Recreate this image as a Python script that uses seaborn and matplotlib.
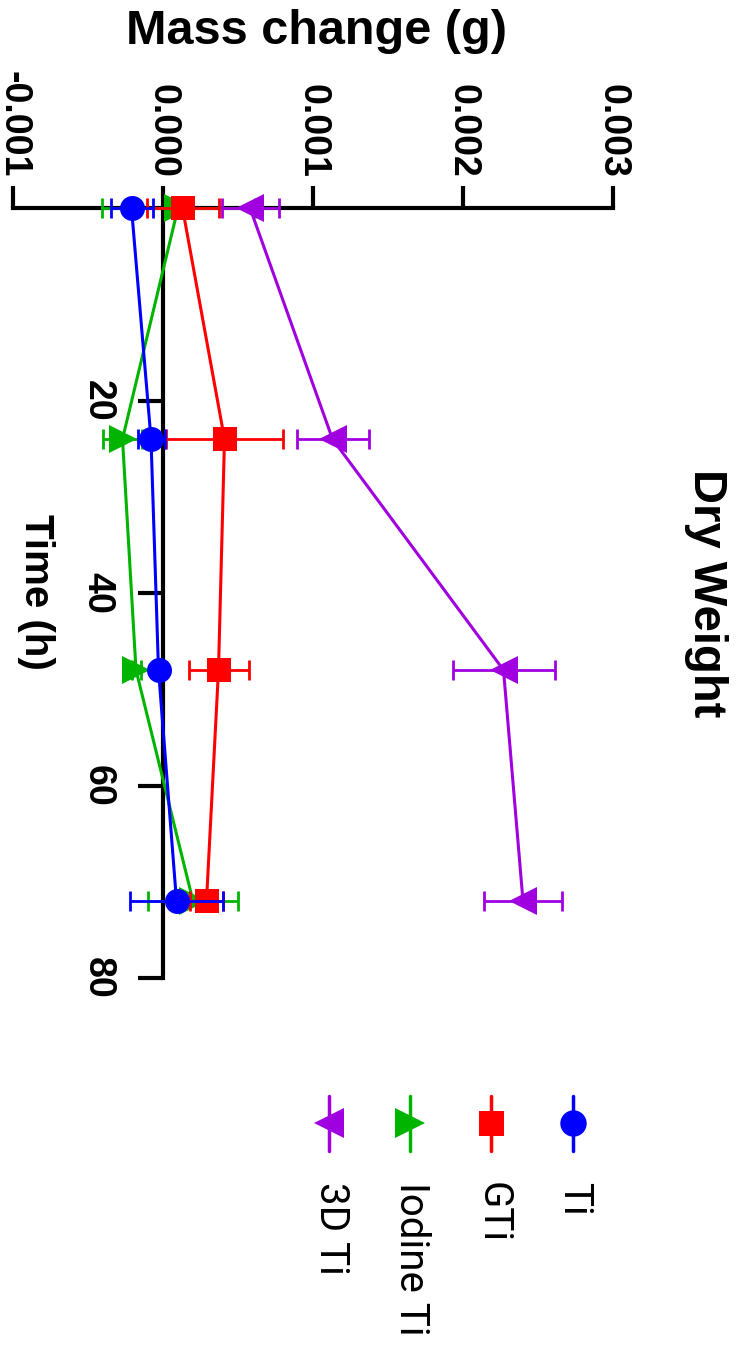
import numpy as np
import pandas as pd
import matplotlib
matplotlib.use("Agg")
import matplotlib.pyplot as plt
import seaborn as sns

# Dry weight mass change over time for each implant surface
time_h = [0, 24, 48, 72]
groups = ["Ti", "GTi", "Iodine Ti", "3D Ti"]
ti_mass = [-0.00021, -0.00008, -0.00003, 0.00009]
ti_err = [0.00014, 0.00009, 0.00003, 0.00031]
gti_mass = [0.00013, 0.00041, 0.00037, 0.00029]
gti_err = [0.00024, 0.00039, 0.00020, 0.00011]
iodine_mass = [0.00010, -0.00027, -0.00018, 0.00020]
iodine_err = [0.00051, 0.00013, 0.00003, 0.00030]
ti3d_mass = [0.00058, 0.00113, 0.00227, 0.00240]
ti3d_err = [0.00019, 0.00024, 0.00034, 0.00026]

mass_ticks = [-0.001, 0.000, 0.001, 0.002, 0.003]
mass_tick_labels = ["-0.001", "0.000", "0.001", "0.002", "0.003"]
time_ticks = [20, 40, 60, 80]
time_tick_labels = ["20", "40", "60", "80"]

colors = {"Ti": "#0000ff", "GTi": "#ff0000", "Iodine Ti": "#00b400", "3D Ti": "#a000e0"}
# the page is drawn turned a quarter turn clockwise, so up/down triangles point sideways
markers = {"Ti": "o", "GTi": "s", "Iodine Ti": ">", "3D Ti": "<"}
marker_sizes = {"Ti": 18, "GTi": 17, "Iodine Ti": 20, "3D Ti": 20}
zorders = {"Iodine Ti": 3, "3D Ti": 4, "GTi": 5, "Ti": 6}

series = {
    "Ti": (ti_mass, ti_err),
    "GTi": (gti_mass, gti_err),
    "Iodine Ti": (iodine_mass, iodine_err),
    "3D Ti": (ti3d_mass, ti3d_err),
}

rows = []
for g in groups:
    m, e = series[g]
    for t, v, s in zip(time_h, m, e):
        rows.append({"group": g, "time": t, "mass": v, "err": s})
df = pd.DataFrame(rows)

sns.set_style("white")
plt.rcParams["font.family"] = ["Liberation Sans", "DejaVu Sans"]
plt.rcParams["text.color"] = "black"
plt.rcParams["axes.labelcolor"] = "black"
plt.rcParams["xtick.color"] = "black"
plt.rcParams["ytick.color"] = "black"

W, H = 747, 1348
fig = plt.figure(figsize=(W / 100, H / 100), dpi=100)
ax = fig.add_axes([13 / W, 1 - 978 / H, 600 / W, 770 / H])

for g in groups:
    sub = df[df["group"] == g]
    z = zorders[g]
    ax.errorbar(sub["mass"], sub["time"], xerr=sub["err"], fmt="none",
                ecolor=colors[g], elinewidth=2, capsize=7, capthick=2,
                zorder=z, clip_on=False)
    sns.lineplot(data=sub, x="mass", y="time", orient="y", sort=False,
                 estimator=None, color=colors[g], marker=markers[g],
                 markersize=marker_sizes[g], markeredgewidth=0, linewidth=2.2,
                 legend=False, ax=ax, zorder=z, clip_on=False)

ax.set_xlim(-0.001, 0.003)
ax.set_ylim(80, 0)

# axes styling
for side in ["right", "bottom"]:
    ax.spines[side].set_visible(False)
ax.spines["left"].set_position(("data", 0))
for side in ["left", "top"]:
    ax.spines[side].set_linewidth(3)
    ax.spines[side].set_color("black")

ax.xaxis.tick_top()
ax.set_xticks(mass_ticks)
ax.set_xticklabels(mass_tick_labels, rotation=-90, fontsize=27,
                   fontweight="bold", ha="center", va="bottom", color="black")
ax.tick_params(axis="x", which="both", direction="out", length=16, width=3,
               pad=6, top=True, bottom=False, color="black")
ax.set_yticks(time_ticks)
ax.set_yticklabels(time_tick_labels, rotation=-90, fontsize=27,
                   fontweight="bold", ha="right", va="center", color="black")
ax.tick_params(axis="y", which="both", direction="out", length=18, width=3,
               pad=16, left=True, right=False, color="black")
ax.set_xlabel("")
ax.set_ylabel("")
ax.grid(False)

fig.text(316 / W, 1 - 32 / H, "Mass change (g)", fontsize=35, fontweight="bold",
         ha="center", va="center", color="black")
fig.text(36 / W, 1 - 592 / H, "Time (h)", fontsize=29, fontweight="bold",
         rotation=-90, ha="center", va="center", color="black")
fig.text(706 / W, 1 - 593 / H, "Dry Weight", fontsize=34, fontweight="bold",
         rotation=-90, ha="center", va="center", color="black")

# legend, laid out along the bottom of the page
leg = fig.add_axes([0, 0, 1, 1], facecolor="none")
leg.set_xlim(0, W)
leg.set_ylim(H, 0)
leg.axis("off")
legend_x = {"Ti": 573, "GTi": 491, "Iodine Ti": 410, "3D Ti": 329}
for g in groups:
    x = legend_x[g]
    leg.plot([x, x], [1096, 1151], color=colors[g], linewidth=2.5)
    leg.plot([x], [1123], color=colors[g], marker=markers[g],
             markersize=marker_sizes[g] + 1, markeredgewidth=0, linestyle="none")
    leg.text(x + 2, 1182, g, fontsize=29, family=["Roboto", "DejaVu Sans"],
             rotation=-90, ha="center", va="top", color="black")

fig.savefig("out.png", dpi=100)
